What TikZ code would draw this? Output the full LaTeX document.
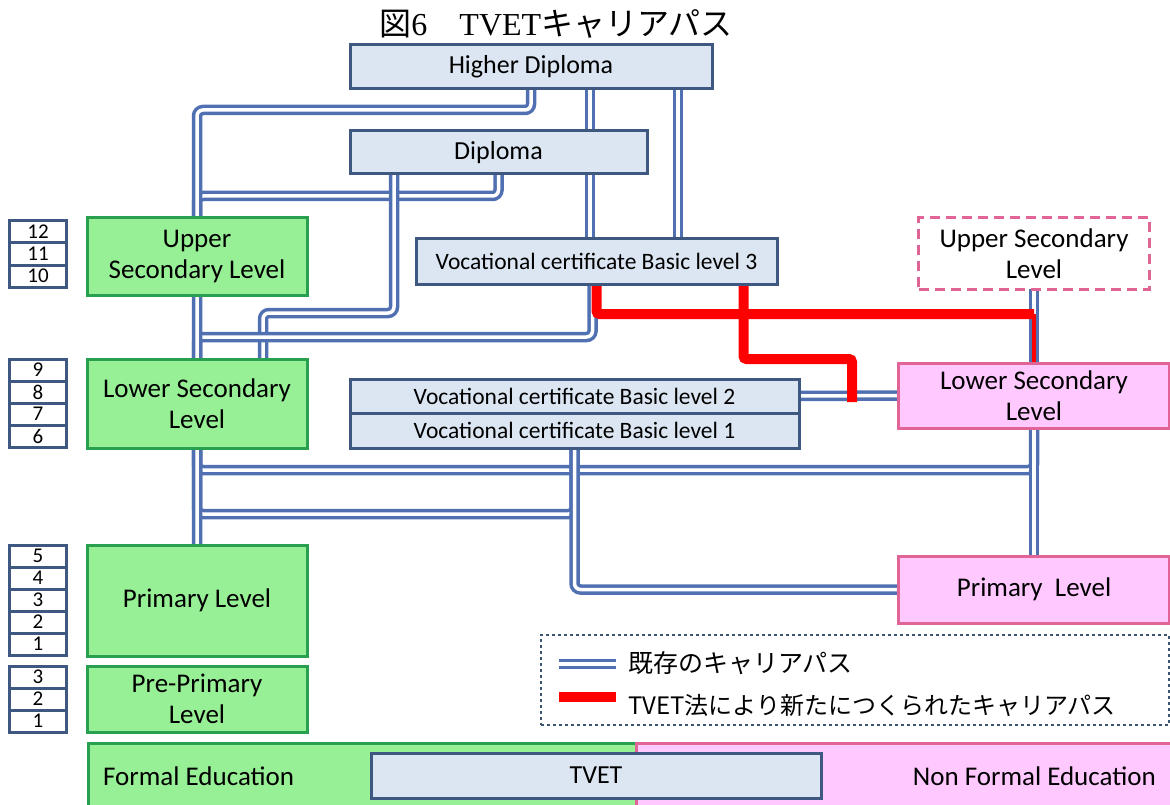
\documentclass[tikz,border=0pt]{standalone}
\usepackage{fontspec}
\setmainfont{Carlito}
\newfontfamily\jpfont{Noto Sans CJK JP}
\newfontfamily\titlefont{Liberation Serif}
\usetikzlibrary{positioning,backgrounds}
\definecolor{lineblue}{RGB}{80,112,178}
\definecolor{boxfill}{RGB}{220,230,242}
\definecolor{boxedge}{RGB}{62,88,130}
\definecolor{greenfill}{RGB}{152,240,150}
\definecolor{greenedge}{RGB}{40,160,80}
\definecolor{pinkfill}{RGB}{255,200,255}
\definecolor{pinkedge}{RGB}{225,100,150}
\definecolor{legendedge}{RGB}{60,85,115}
\tikzset{
  careerline/.style={draw=lineblue,line width=3.5pt,double=white,double distance=3.5pt,rounded corners=6pt},
  tvetline/.style={draw=red,line width=10pt,rounded corners=3pt},
  tvetbox/.style={draw=boxedge,fill=boxfill,line width=3pt,inner sep=0pt,outer sep=0pt,font=\fontsize{26}{31}\selectfont},
  certtext/.style={font=\fontsize{23.5}{28}\selectfont},
  formalbox/.style={draw=greenedge,fill=greenfill,line width=3pt,minimum width=220,inner sep=0pt,outer sep=0pt,align=center,font=\fontsize{27}{31}\selectfont},
  nonformalbox/.style={draw=pinkedge,fill=pinkfill,line width=3pt,inner sep=0pt,outer sep=0pt,align=center,font=\fontsize{27}{31}\selectfont},
  gradebox/.style={draw=boxedge,fill=white,line width=3pt,minimum width=57,minimum height=22,inner sep=0pt,outer sep=0pt,font=\fontsize{21}{21}\selectfont},
  legendbox/.style={draw=legendedge,fill=white,line width=2.5pt,dash pattern=on 3pt off 3pt,inner sep=0pt},
  legendtext/.style={inner sep=0pt,font=\jpfont\fontsize{24}{24}\selectfont},
  leveltext/.style={inner sep=0pt,font=\fontsize{27}{31}\selectfont}
}
\begin{document}
\begin{tikzpicture}[x=1pt,y=-1pt]
	\useasboundingbox (0,0) rectangle (1170,805);

	\node[inner sep=0pt,font=\fontsize{32}{32}\selectfont] (title) at (556,24) {{\jpfont 図}{\titlefont 6}{\jpfont 　}{\titlefont TVET}{\jpfont キャリアパス}};

	\node[tvetbox,minimum width=362,minimum height=44] (hd) at (531,67) {Higher Diploma};
	\node[tvetbox,minimum width=297,minimum height=43] (dip) at (498.5,152.5) {Diploma};
	\node[tvetbox,certtext,minimum width=361,minimum height=45] (v3) at (596.5,261.5) {Vocational certificate Basic level 3};
	\node[tvetbox,certtext,minimum width=449,minimum height=34] (v2) at (574.5,396) {Vocational certificate Basic level 2};
	\node[tvetbox,certtext,minimum width=449,minimum height=35] (v1) [below=0pt of v2] {Vocational certificate Basic level 1};

	\node[formalbox,minimum height=77] (us) at (197,256.5) {Upper\\Secondary Level};
	\node[formalbox,minimum height=89] (ls) at (197,403.5) {Lower Secondary\\Level};
	\node[formalbox,minimum height=111] (pri) at (197,600.5) {Primary Level};
	\node[formalbox,minimum height=66] (pre) at (197,699) {Pre-Primary\\Level};

	\node[nonformalbox,fill=white,dash pattern=on 10pt off 6pt,minimum width=231,minimum height=71] (usp) at (1034,253.5) {Upper Secondary\\Level};
	\node[nonformalbox,minimum width=271,minimum height=65] (lsp) at (1034,395.5) {Lower Secondary\\Level};
	\node[nonformalbox,minimum width=271,minimum height=67] (psp) at (1034,589.5) {Primary\ \ Level};

	\node[gradebox] (g12) at (38,232) {12};
	\node[gradebox] (g11) [below=0pt of g12] {11};
	\node[gradebox] (g10) [below=0pt of g11] {10};
	\node[gradebox] (g9) at (38,370) {9};
	\node[gradebox] (g8) [below=0pt of g9] {8};
	\node[gradebox] (g7) [below=0pt of g8] {7};
	\node[gradebox] (g6) [below=0pt of g7] {6};
	\node[gradebox] (g5) at (38,556) {5};
	\node[gradebox] (g4) [below=0pt of g5] {4};
	\node[gradebox] (g3) [below=0pt of g4] {3};
	\node[gradebox] (g2) [below=0pt of g3] {2};
	\node[gradebox] (g1) [below=0pt of g2] {1};
	\node[gradebox] (k3) at (38,677) {3};
	\node[gradebox] (k2) [below=0pt of k3] {2};
	\node[gradebox] (k1) [below=0pt of k2] {1};

	\node[legendbox,minimum width=628,minimum height=90] (legend) at (855,680) {};
	\coordinate (oldA) at (559,664);
	\coordinate (oldB) at (616,664);
	\coordinate (newA) at (559,697);
	\coordinate (newB) at (616,697);
	\node[legendtext,anchor=west,font=\jpfont\fontsize{25}{25}\selectfont] (oldtext) at (628,663) {既存のキャリアパス};
	\node[legendtext,anchor=west] (newtext) at (628,705) {TVET法により新たにつくられたキャリアパス};
	\draw[careerline] (oldA) -- (oldB);
	\draw[tvetline] (newA) -- (newB);

	\node[formalbox,anchor=north west,minimum width=548,minimum height=72] (formal) at (88,743) {};
	\node[nonformalbox,anchor=north west,minimum width=545,minimum height=72] (nonformal) at (636,743) {};
	\node[tvetbox,minimum width=450,minimum height=45] (tvet) at (596,775.5) {TVET};
	\node[leveltext,anchor=west] (formaltext) at (103,776) {Formal Education};
	\node[leveltext,anchor=east] (nonformaltext) at (1156,776) {Non Formal Education};

	\coordinate (redend) at (852,402);

	\begin{pgfonlayer}{background}
	\draw[careerline] ([xshift=59]hd.south) -- ([xshift=-6.5]v3.north);
	\draw[careerline] ([xshift=147]hd.south) -- ([xshift=81.5]v3.north);
	\draw[careerline] (dip.south) -- ++(0,22) -| (us.north);
	\draw[careerline] ([xshift=-104.5]dip.south) -- ++(0,139) -| ([xshift=66]ls.north);
	\draw[careerline] ([xshift=-4]v3.south) -- ++(0,53) -| (ls.north);
	\draw[careerline] (v2.east) -- (lsp.west);
	\draw[careerline] (ls.south) -- ++(0,22) -| (lsp.south);
	\draw[careerline] (usp.south) -- (psp.north);
	\draw[careerline] (ls.south) -- ++(0,66) -| (v1.south);
	\draw[careerline] (v1.south) |- (psp.west);
	\draw[careerline] (hd.south) -- ++(0,21) -| (pri.north);
	\draw[tvetline] (v3.south) -- ++(0,30) -- ++(437.5,0) coordinate (redcorner);
	\draw[tvetline,line width=4pt] (redcorner) -- (lsp.north);
	\draw[tvetline] ([xshift=147]v3.south) -- ++(0,75) -| (redend);
	\end{pgfonlayer}
\end{tikzpicture}
\end{document}
